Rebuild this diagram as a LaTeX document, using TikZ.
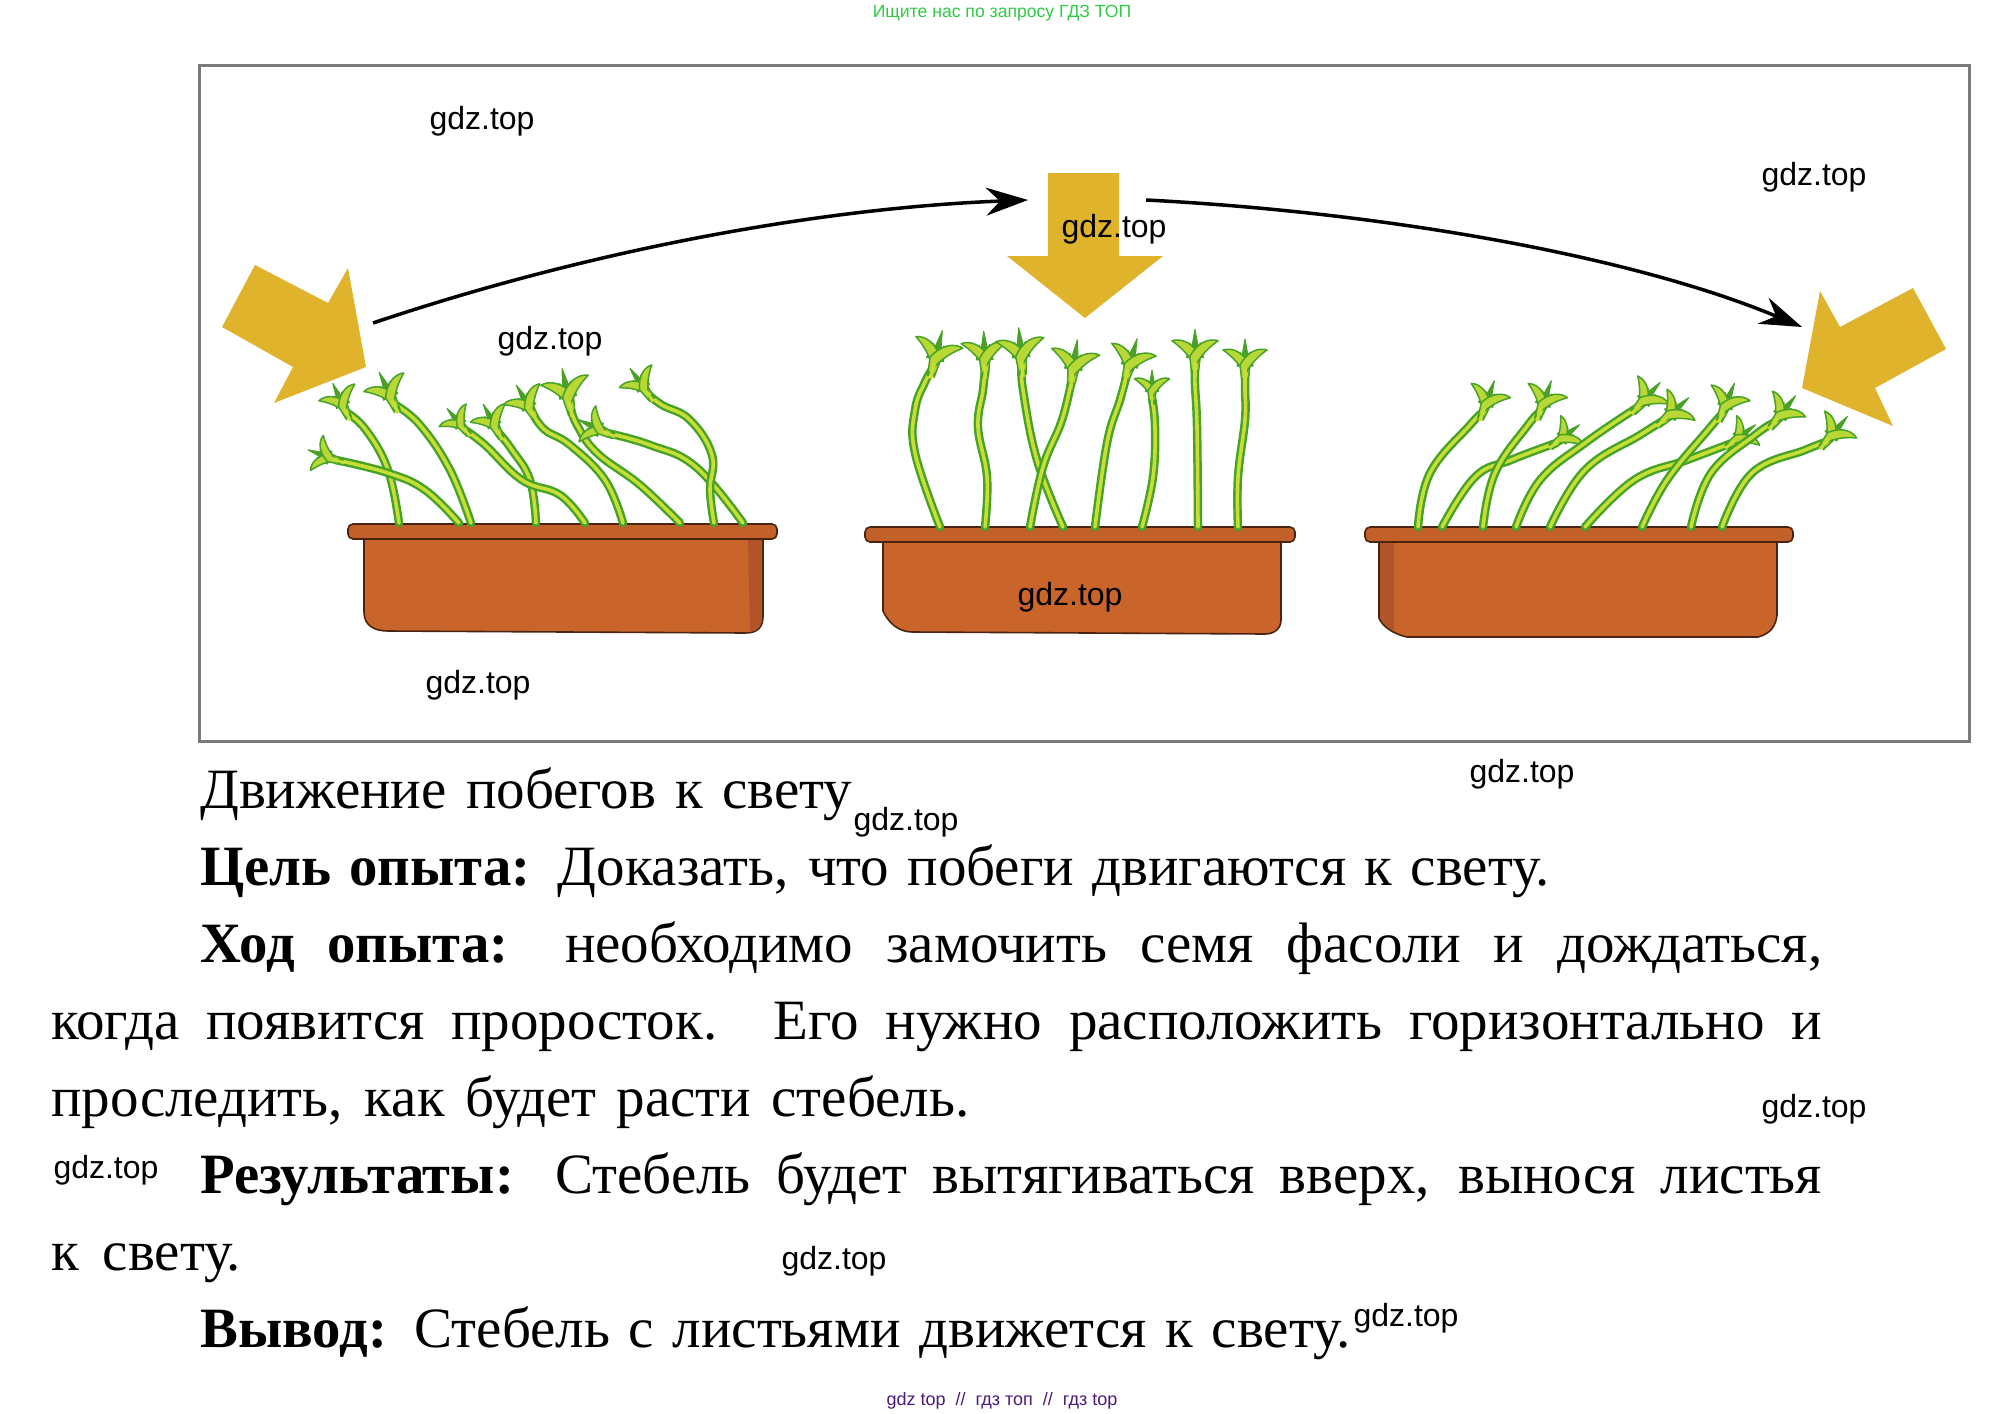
\documentclass[tikz,border=0pt]{standalone}
\usepackage{fontspec}
\usetikzlibrary{arrows.meta}
\setmainfont{Liberation Serif}
\newfontfamily\bodyf[FakeStretch=1.0,BoldFeatures={FakeStretch=0.995}]{Liberation Serif}
\newfontfamily\wmf{Liberation Sans}
\definecolor{sun}{HTML}{E0B32C}
\definecolor{clay}{HTML}{C9642A}
\definecolor{clayd}{HTML}{B0552A}
\definecolor{claye}{HTML}{4A2410}
\definecolor{stemo}{HTML}{47A228}
\definecolor{stemi}{HTML}{C6DE36}
\definecolor{leafd}{HTML}{4E9E2A}
\definecolor{framec}{HTML}{7A7A7A}
\definecolor{topg}{HTML}{2FCB45}
\definecolor{botp}{HTML}{4B1A80}
\newcommand{\Sprout}[3]{% rotation, scale, points
  \draw[stemo,line width=8.5pt,line cap=round,line join=round] plot[smooth,tension=.7] coordinates {#3};
  \draw[stemi,line width=3.6pt,line cap=round,line join=round] plot[smooth,tension=.7] coordinates {#3};
}
\newcommand{\Tuft}[4]{% x,y,rot,scale
  \begin{scope}[shift={(#1,#2)},rotate=#3,scale=#4]
    \filldraw[draw=stemo,fill=leafd,line width=1pt,line join=round] (-8,-8) -- (-5,-22) -- (-3,-18) -- (0,-35) -- (3,-18) -- (5,-22) -- (8,-8) -- cycle;
    \filldraw[draw=stemo,fill=stemi!90!stemo,line width=1.5pt,line join=round] (3,8) .. controls (-1,-4) and (-9,-15) .. (-22,-24) .. controls (-13,-27) and (-2,-22) .. (5,-9) -- cycle;
    \filldraw[draw=stemo,fill=stemi!90!stemo,line width=1.5pt,line join=round] (-3,8) .. controls (1,-4) and (9,-15) .. (22,-24) .. controls (13,-27) and (2,-22) .. (-5,-9) -- cycle;
    \fill[stemi] (-1.7,10) -- (1.7,10) -- (1.7,-4) -- (-1.7,-4) -- cycle;
  \end{scope}
}
\newcommand{\Plant}[5]{% x,y tip, rot, scale, points
  \Sprout{#3}{#4}{#5 (#1,#2)}
  \Tuft{#1}{#2}{#3}{#4}
}
\tikzset{
  wm/.style={anchor=base,inner sep=0pt,text=black,font=\wmf\fontsize{32}{32}\selectfont},
  textline/.style={anchor=base west,inner sep=0pt,text=black,font=\bodyf\fontsize{57}{57}\selectfont},
  sunarrow/.style={fill=sun,draw=none},
  potbody/.style={fill=clay,draw=claye,line width=1.6pt,line join=round},
  potrim/.style={fill=clay!96!black,draw=claye,line width=1.6pt,rounded corners=5pt},
  curve/.style={draw=black,line width=3.5pt,-{Stealth[length=42pt,width=28pt,inset=14pt]}}
}
\begin{document}
\begin{tikzpicture}[x=1pt,y=-1pt]
\useasboundingbox (0,0) rectangle (2007,1413);
\fill[white] (0,0) rectangle (2007,1413);
\draw[framec,line width=3pt] (199,66) rectangle (1969,741);

% light arrows
\fill[sunarrow] (255,265)--(328,303)--(348,268)--(366,367)--(274,403)--(293,367)--(222,327)--cycle;
\fill[sunarrow] (1048,173)--(1119,173)--(1119,256)--(1163,256)--(1085,318)--(1007,256)--(1048,256)--cycle;
\fill[sunarrow] (1820,291)--(1840,327)--(1913,288)--(1946,349)--(1875,388)--(1893,426)--(1802,388)--cycle;

% curved connectors
\coordinate (c1s) at (373,323);
\coordinate (c1e) at (1028,200);
\coordinate (c2s) at (1146,200);
\coordinate (c2e) at (1802,327);
\draw[curve] (c1s) .. controls (590,250) and (820,208) .. (c1e);
\draw[curve] (c2s) .. controls (1380,212) and (1630,255) .. (c2e);

% pot 1
\filldraw[potbody] (364,535) -- (364,612) .. controls (364,626) and (375,631) .. (388,631) -- (745,633) .. controls (757,633) and (763,628) .. (763,616) -- (763,535) -- cycle;
\fill[clayd] (748,540) -- (762,540) -- (762,616) .. controls (762,626) and (758,631) .. (750,632) -- cycle;
\filldraw[potrim] (348,524) rectangle (777,539);
% pot 2
\filldraw[potbody] (883,538) -- (883,611) .. controls (888,622) and (898,632) .. (912,632) -- (1265,634) .. controls (1275,634) and (1281,628) .. (1281,620) -- (1281,538) -- cycle;
\filldraw[potrim] (865,527) rectangle (1295,542);
% pot 3
\filldraw[potbody] (1379,538) -- (1379,618) .. controls (1382,626) and (1393,634) .. (1407,637) -- (1758,637) .. controls (1770,634) and (1776,626) .. (1777,615) -- (1777,538) -- cycle;
\fill[clayd] (1380,540) -- (1394,540) -- (1394,631) .. controls (1386,626) and (1381,622) .. (1380,616) -- cycle;
\filldraw[potrim] (1365,527) rectangle (1793,542);

% plants 1
\Plant{346}{412}{25}{.9}{(399,523) (388,470) (366,430)}
\Plant{336}{460}{70}{.85}{(459,523) (425,490) (388,473)}
\Plant{394}{404}{25}{1}{(471,523) (450,470) (420,425)}
\Plant{498}{432}{28}{.9}{(536,523) (530,480) (512,450)}
\Plant{465}{430}{40}{.8}{(585,523) (560,495) (522,480) (485,445)}
\Plant{533}{414}{30}{.95}{(623,523) (605,480) (570,445) (545,430)}
\Plant{570}{406}{12}{1.1}{(680,523) (640,485) (597,453) (577,425)}
\Plant{607}{433}{65}{.9}{(743,523) (696,467) (650,445)}
\Plant{648}{394}{35}{.9}{(714,523) (710,490) (712,455) (690,420) (662,405)}
% plants 2
\Plant{933}{368}{-14}{1.1}{(940,527) (915,453) (915,410) (925,382)}
\Plant{985}{368}{2}{1.05}{(985,527) (987,477) (978,427) (983,390)}
\Plant{1022}{366}{5}{1.1}{(1063,527) (1037,460) (1023,390)}
\Plant{1072}{378}{-8}{1.1}{(1030,527) (1043,467) (1062,420)}
\Plant{1127}{374}{-16}{1.05}{(1095,527) (1107,443) (1120,400)}
\Plant{1152}{398}{0}{.8}{(1142,527) (1153,477) (1155,427)}
\Plant{1195}{366}{0}{1.05}{(1198,527) (1197,427) (1195,385)}
\Plant{1245}{374}{0}{1}{(1238,527) (1238,477) (1245,420) (1245,390)}
% plants 3
\Plant{1483}{412}{-20}{.95}{(1418,527) (1430,473) (1470,425)}
\Plant{1556}{443}{-52}{.85}{(1442,527) (1475,477) (1511,460)}
\Plant{1540}{412}{-20}{.95}{(1483,527) (1495,473) (1528,425)}
\Plant{1638}{407}{-42}{.95}{(1516,527) (1540,480) (1585,443)}
\Plant{1664}{420}{-48}{.95}{(1550,527) (1585,470) (1640,435)}
\Plant{1732}{443}{-52}{.85}{(1585,527) (1634,480) (1687,460)}
\Plant{1722}{414}{-22}{.95}{(1642,527) (1667,480) (1708,430)}
\Plant{1775}{422}{-38}{.95}{(1691,527) (1711,473) (1755,435)}
\Plant{1826}{442}{-40}{.95}{(1722,527) (1752,473) (1805,450)}

% body text
\node[textline] (l1) at (200,808) {\hbox to 652pt{Движение побегов к свету}};
\node[textline] (l2) at (200,885) {\hbox to 1349pt{\textbf{Цель опыта:} Доказать, что побеги двигаются к свету.}};
\node[textline] (l3) at (200,962) {\hbox to 1622pt{\textbf{Ход опыта:} необходимо замочить семя фасоли и дождаться,}};
\node[textline] (l4) at (51,1039) {\hbox to 1771pt{когда появится проросток. Его нужно расположить горизонтально и}};
\node[textline] (l5) at (51,1116) {\hbox to 918pt{проследить, как будет расти стебель.}};
\node[textline] (l6) at (200,1193) {\hbox to 1622pt{\textbf{Результаты:} Стебель будет вытягиваться вверх, вынося листья}};
\node[textline] (l7) at (51,1270) {\hbox to 190pt{к свету.}};
\node[textline] (l8) at (200,1347) {\hbox to 1150pt{\textbf{Вывод:} Стебель с листьями движется к свету.}};

% watermarks
\node[wm] (w1) at (482,129) {gdz.top};
\node[wm] (w2) at (1814,185) {gdz.top};
\node[wm] (w3) at (1114,237) {gdz.top};
\node[wm] (w4) at (550,349) {gdz.top};
\node[wm] (w5) at (1070,605) {gdz.top};
\node[wm] (w6) at (478,693) {gdz.top};
\node[wm] (w7) at (1522,782) {gdz.top};
\node[wm] (w8) at (906,830) {gdz.top};
\node[wm] (w9) at (1814,1117) {gdz.top};
\node[wm] (w10) at (106,1178) {gdz.top};
\node[wm] (w11) at (834,1269) {gdz.top};
\node[wm] (w12) at (1406,1326) {gdz.top};
\node[anchor=base,inner sep=0pt,text=topg,font=\wmf\fontsize{17.6}{18}\selectfont] (top) at (1002,18) {Ищите нас по запросу ГДЗ ТОП};
\node[anchor=base,inner sep=0pt,text=botp,font=\wmf\fontsize{18}{18}\selectfont] (bot) at (1002,1405) {gdz top\ \ //\ \ гдз топ\ \ //\ \ гдз top};
\end{tikzpicture}
\end{document}
